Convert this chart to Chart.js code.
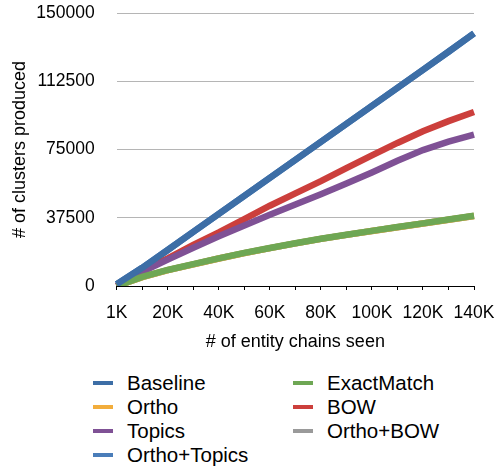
<!DOCTYPE html>
<html>
<head>
<meta charset="utf-8">
<script src="https://cdn.jsdelivr.net/npm/chart.js@4/dist/chart.umd.min.js"></script>
<style>
  body { margin: 0; background: #fff; font-family: "Liberation Sans", Arial, sans-serif; }
  #wrap { position: relative; width: 495px; height: 466px; }
  #chartBox { position: absolute; left: 0; top: 0; width: 495px; height: 362px; }
  #legend {
    position: absolute; left: 93px; top: 371px;
    display: grid; grid-auto-flow: column;
    grid-template-rows: repeat(4, 24px); grid-template-columns: 200px 200px;
    font-size: 20.5px; color: #000;
  }
  .item { display: flex; align-items: center; height: 24px; }
  .swatch { width: 20px; height: 4px; margin-right: 14px; }
</style>
</head>
<body>
<div id="wrap">
  <div id="chartBox"><canvas id="clusterChart"></canvas></div>
  <div id="legend"></div>
</div>
<script>
// x categories: entity chains seen
let chainsSeen = ["1K", "10K", "20K", "30K", "40K", "50K", "60K", "70K", "80K", "90K", "100K", "110K", "120K", "130K", "140K"];
let yTicks = [0, 37500, 75000, 112500, 150000];

// clusters produced per system
let baseline    = [1000, 10000, 19800, 29700, 39600, 49500, 59400, 69300, 79200, 89100, 99000, 108900, 118800, 128700, 138800];
let ortho       = [0, 4900, 8700, 11900, 15100, 18100, 20800, 23400, 25900, 28100, 30200, 32300, 34300, 36400, 38500];
let topics      = [0, 7800, 14500, 21000, 27300, 33300, 39200, 44800, 50400, 56300, 62400, 68800, 74700, 79300, 83200];
let orthoTopics = [1000, 10000, 19800, 29700, 39600, 49500, 59400, 69300, 79200, 89100, 99000, 108900, 118800, 128700, 138800];
let exactMatch  = [0, 5000, 8800, 12000, 15200, 18200, 20900, 23500, 26000, 28200, 30300, 32400, 34400, 36500, 38600];
let bow         = [0, 8500, 15200, 22600, 29500, 36800, 44100, 50900, 57600, 64800, 71800, 78600, 85000, 90600, 95600];
let orthoBow    = [0, 4900, 8700, 11900, 15100, 18100, 20800, 23400, 25900, 28100, 30200, 32300, 34300, 36400, 38500];

let seriesNames  = ["Baseline", "Ortho", "Topics", "Ortho+Topics", "ExactMatch", "BOW", "Ortho+BOW"];
let seriesColors = ["#3d6ea6", "#f2ad3c", "#7f5195", "#4a7db9", "#6ea754", "#cc3f3c", "#9a9a9a"];
let seriesData   = [baseline, ortho, topics, orthoTopics, exactMatch, bow, orthoBow];
// lower order draws on top
let seriesOrder  = [0, 2, 1, 2, 0, 1, 2];

let fontFamily = '"Liberation Sans", Arial, Helvetica, sans-serif';

let datasets = seriesNames.map((name, i) => ({
    label: name,
    data: seriesData[i],
    borderColor: seriesColors[i],
    backgroundColor: seriesColors[i],
    borderWidth: 6.5,
    pointRadius: 0,
    tension: 0,
    order: seriesOrder[i]
}));

let ctx = document.getElementById("clusterChart").getContext("2d");
let clusterChart = new Chart(ctx, {
    type: "line",
    data: { labels: chainsSeen, datasets: datasets },
    options: {
        responsive: true,
        maintainAspectRatio: false,
        animation: false,
        layout: { padding: { left: 4, top: 3, right: 0, bottom: 0 } },
        plugins: { legend: { display: false }, tooltip: { enabled: false } },
        scales: {
            x: {
                grid: { display: true, drawOnChartArea: false, drawTicks: true, tickLength: 4, color: "#000" },
                border: { display: true, color: "#000", width: 1 },
                ticks: {
                    autoSkip: false, maxRotation: 0, padding: 13, color: "#000",
                    font: { family: fontFamily, size: 17.5 },
                    callback: function (val, idx) { return idx % 2 === 0 ? chainsSeen[idx] : ""; }
                },
                title: { display: true, text: "# of entity chains seen", color: "#000", font: { family: fontFamily, size: 18 }, padding: { top: 0, bottom: 9 } },
                afterFit: function (scale) {
                    scale.height = 76;
                    scale.paddingLeft = 0;
                    scale.paddingRight = 21;
                }
            },
            y: {
                min: 0, max: 150000,
                afterBuildTicks: function (axis) { axis.ticks = yTicks.map(v => ({ value: v })); },
                grid: { color: "#b5b5b5", lineWidth: 1, drawTicks: false },
                border: { display: false },
                ticks: {
                    padding: 22, color: "#000", font: { family: fontFamily, size: 17.5 },
                    callback: function (val) { return String(val); }
                },
                title: { display: true, text: "# of clusters produced", color: "#000", font: { family: fontFamily, size: 18 }, padding: { top: 5, bottom: 0 } },
                afterFit: function (scale) {
                    scale.width = 112.7;
                    scale.paddingTop = 13;
                    scale.paddingBottom = 0;
                }
            }
        }
    }
});

// legend: two columns, filled top to bottom
let legendBox = document.getElementById("legend");
clusterChart.data.datasets.forEach(ds => {
    let item = document.createElement("div");
    item.className = "item";
    item.innerHTML = '<span class="swatch" style="background:' + ds.borderColor + '"></span>' + ds.label;
    legendBox.appendChild(item);
});
</script>
</body>
</html>
